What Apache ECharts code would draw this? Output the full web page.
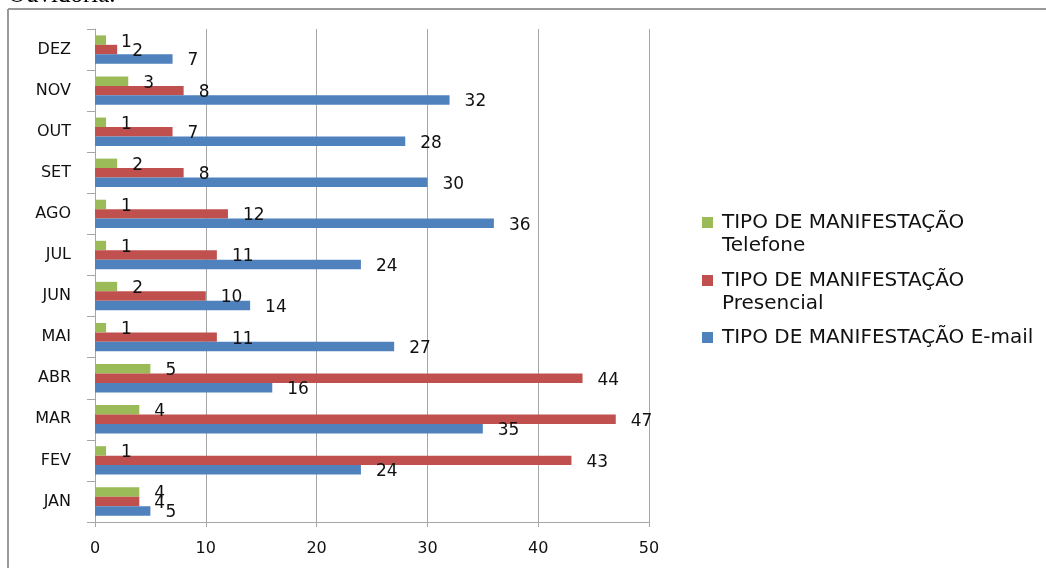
<!DOCTYPE html>
<html>
<head>
<meta charset="utf-8">
<script src="https://cdn.jsdelivr.net/npm/echarts@6/dist/echarts.min.js"></script>
<style>
  html, body { margin: 0; padding: 0; background: #fff; }
  #main { width: 1046px; height: 568px; }
</style>
</head>
<body>
<div id="main"></div>
<script>
// meses, de baixo (JAN) para cima (DEZ)
var meses = ['JAN', 'FEV', 'MAR', 'ABR', 'MAI', 'JUN', 'JUL', 'AGO', 'SET', 'OUT', 'NOV', 'DEZ']
var email = [5, 24, 35, 16, 27, 14, 24, 36, 30, 28, 32, 7]
var presencial = [4, 43, 47, 44, 11, 10, 11, 12, 8, 7, 8, 2]
var telefone = [4, 1, 4, 5, 1, 2, 1, 1, 2, 1, 3, 1]
var xTicks = [0, 10, 20, 30, 40, 50]

var nomeEmail = 'TIPO DE MANIFESTAÇÃO E-mail'
var nomePresencial = 'TIPO DE MANIFESTAÇÃO\nPresencial'
var nomeTelefone = 'TIPO DE MANIFESTAÇÃO\nTelefone'

var colors = ['#9BBB59', '#C0504D', '#4F81BD']
var fonte = 'DejaVu Sans'
var cinza = '#a6a6a6'

function serie (nome, dados, cor) {
  return {
    name: nome,
    type: 'bar',
    data: dados,
    barGap: '0%',
    barCategoryGap: '31%',
    itemStyle: { color: cor },
    label: {
      show: true,
      position: 'right',
      distance: 15,
      offset: [0, 2],
      color: '#111',
      fontFamily: fonte,
      fontSize: 17
    }
  }
}

// duas linhas: uma linha vazia antes para o icone ficar na primeira linha
function legenda (nome, top, duasLinhas) {
  return {
    orient: 'vertical',
    left: 702,
    top: top,
    padding: 0,
    itemWidth: 11,
    itemHeight: 11,
    icon: 'rect',
    selectedMode: false,
    data: [nome],
    formatter: function (n) { return duasLinhas ? '\n' + n : n },
    textStyle: { fontFamily: fonte, fontSize: 20, color: '#111', lineHeight: 23, padding: [0, 0, 0, 4] }
  }
}

var chart = echarts.init(document.getElementById('main'))

chart.setOption({
  animation: false,
  backgroundColor: '#fff',
  color: colors,
  grid: { left: 95, right: 397, top: 29, bottom: 46, containLabel: false },
  legend: [
    legenda(nomeTelefone, 188, true),
    legenda(nomePresencial, 246, true),
    legenda(nomeEmail, 326, false)
  ],
  xAxis: {
    type: 'value',
    min: xTicks[0],
    max: xTicks[xTicks.length - 1],
    interval: xTicks[1] - xTicks[0],
    axisLine: { show: true, lineStyle: { color: cinza, width: 1 } },
    axisTick: { show: true, length: 5, lineStyle: { color: cinza } },
    axisLabel: { margin: 19, color: '#111', fontFamily: fonte, fontSize: 16 },
    splitLine: { show: true, lineStyle: { color: cinza, width: 1 } }
  },
  yAxis: {
    type: 'category',
    data: meses,
    axisLine: { show: true, lineStyle: { color: cinza, width: 1 } },
    axisTick: { show: true, length: 8, lineStyle: { color: cinza } },
    axisLabel: { margin: 24, color: '#111', fontFamily: fonte, fontSize: 16 }
  },
  // ordem: a primeira serie fica em cima dentro de cada mes
  series: [
    serie(nomeTelefone, telefone, colors[0]),
    serie(nomePresencial, presencial, colors[1]),
    serie(nomeEmail, email, colors[2])
  ],
  graphic: [
    // moldura da figura (topo e esquerda)
    { type: 'line', shape: { x1: 8, y1: 9, x2: 1046, y2: 9 }, style: { stroke: '#999', lineWidth: 2 } },
    { type: 'line', shape: { x1: 8, y1: 9, x2: 8, y2: 568 }, style: { stroke: '#999', lineWidth: 2 } },
    // texto do documento cortado no topo
    { type: 'text', left: 8, top: -17, style: { text: 'Ouvidoria.', fontFamily: 'Liberation Serif', fontSize: 25, fill: '#000' } }
  ]
})
</script>
</body>
</html>
